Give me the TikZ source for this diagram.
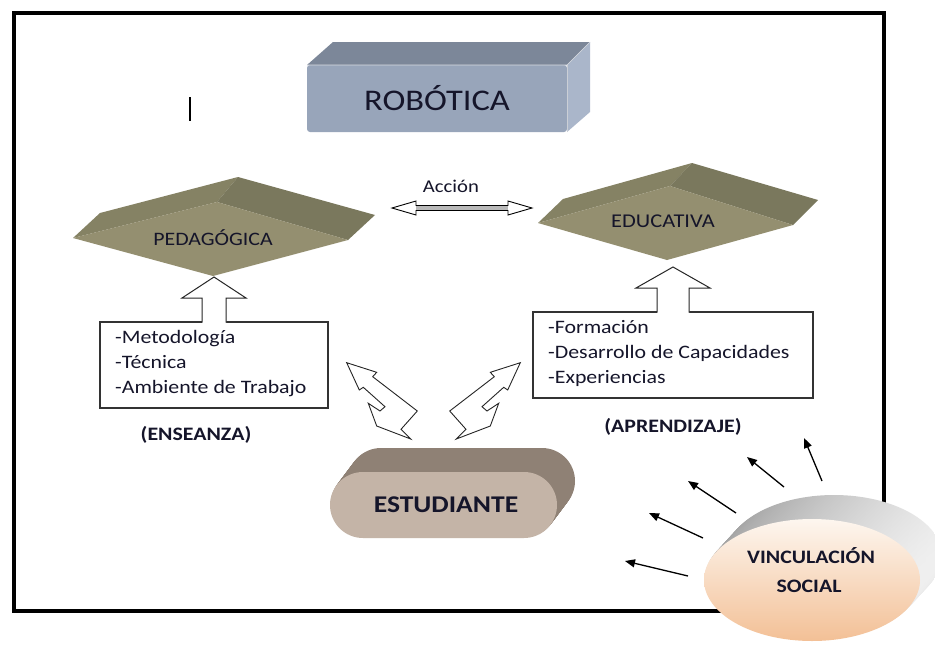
\documentclass[tikz,border=0pt]{standalone}
\usepackage{fontspec}
\setmainfont{Carlito}[FakeStretch=1.15]
\usetikzlibrary{arrows.meta}
\definecolor{ink}{HTML}{15152A}
\definecolor{robfront}{HTML}{98A5BA}
\definecolor{robtop}{HTML}{7C8799}
\definecolor{robright}{HTML}{AAB6CA}
\definecolor{dfront}{HTML}{948F70}
\definecolor{dleft}{HTML}{858264}
\definecolor{dright}{HTML}{7A785D}
\definecolor{estfront}{HTML}{C4B4A7}
\definecolor{esttop}{HTML}{8F8175}
\definecolor{vincbot}{HTML}{F3C096}
\definecolor{vinctop}{HTML}{FDF6EF}
\tikzset{
  txt/.style={inner sep=0pt, text=ink},
  listbox/.style={draw=black!80, line width=1.1pt, fill=white},
  blockarrow/.style={draw=black!85, line width=1pt, fill=white, line join=miter},
  vinarrow/.style={line width=1.3pt, -{Triangle[length=10pt,width=8pt]}},
}
\begin{document}
\begin{tikzpicture}[x=1pt,y=-1pt]
\useasboundingbox (0,0) rectangle (935,646);
\fill[white] (0,0) rectangle (935,646);

% frame
\draw[line width=3.5pt] (14,13) rectangle (884,611);

% stray mark
\draw[line width=2.4pt] (190,97) -- (190,121);

% ROBOTICA box
\fill[robtop] (307,65) -- (333,42) -- (590,42) -- (567,65) -- cycle;
\fill[robright] (567,65) -- (590,42) -- (590,112) -- (567,132) -- cycle;
\fill[robfront, rounded corners=3pt] (307,65) rectangle (567,132);
\draw[white!70!robtop, line width=0.6pt] (307,65) -- (567,65) -- (590,42);
\draw[white!60!robtop, line width=0.6pt] (567,65) -- (567,132);
\node[txt, anchor=base] (rob) at (437,110) {\fontsize{30}{36}\selectfont ROBÓTICA};

% up block arrows and boxes
\draw[listbox] (100,322) rectangle (328,408);
\draw[listbox] (533,312) rectangle (813,398);
\fill[white] (202,323) -- (202,298) -- (182,298) -- (214,277) -- (246,298) -- (226,298) -- (226,323) -- cycle;
\draw[blockarrow] (202,322.5) -- (202,298) -- (182,298) -- (214,277) -- (246,298) -- (226,298) -- (226,322.5);
\fill[white] (657,313) -- (657,288) -- (636,288) -- (673,267) -- (710,288) -- (689,288) -- (689,313) -- cycle;
\draw[blockarrow] (657,312.5) -- (657,288) -- (636,288) -- (673,267) -- (710,288) -- (689,288) -- (689,312.5);

% PEDAGOGICA diamond
\fill[dleft] (73,238) -- (100,213) -- (238,177) -- (217,202) -- cycle;
\fill[dright] (217,202) -- (238,177) -- (375,215) -- (348,240) -- cycle;
\fill[dfront] (73,238) -- (217,202) -- (348,240) -- (213,276) -- cycle;
\node[txt, anchor=base] (ped) at (213,245) {\fontsize{19}{22}\selectfont PEDAGÓGICA};

% EDUCATIVA diamond
\fill[dleft] (538,223) -- (563,199) -- (692,163) -- (670,186) -- cycle;
\fill[dright] (670,186) -- (692,163) -- (818,200) -- (793,225) -- cycle;
\fill[dfront] (538,223) -- (670,186) -- (793,225) -- (667,260) -- cycle;
\node[txt, anchor=base] (edu) at (663,227) {\fontsize{19.5}{22}\selectfont EDUCATIVA};

% Accion double arrow
\node[txt, anchor=base] (acc) at (451,192) {\fontsize{18}{22}\selectfont Acción};
\coordinate (accL) at (392,208);
\coordinate (accR) at (532,208);
\fill[white] (accL) -- ++(24,-7) -- ++(0,4.5) -- ++(92,0) -- ++(0,-4.5) -- (accR) -- ++(-24,7) -- ++(0,-4.5) -- ++(-92,0) -- ++(0,4.5) -- cycle;
\fill[gray!55] (416,205.5) rectangle (508,210.5);
\draw[line width=0.9pt, line join=miter] (accL) -- ++(24,-7) -- ++(0,4.5) -- ++(92,0) -- ++(0,-4.5) -- (accR) -- ++(-24,7) -- ++(0,-4.5) -- ++(-92,0) -- ++(0,4.5) -- cycle;

% lists
\node[txt, anchor=base west] (m1) at (115,343) {\fontsize{19}{22}\selectfont -Metodología};
\node[txt, anchor=base west] (m2) at (115,368) {\fontsize{19}{22}\selectfont -Técnica};
\node[txt, anchor=base west] (m3) at (115,393) {\fontsize{19}{22}\selectfont -Ambiente de Trabajo};
\node[txt, anchor=base west] (f1) at (548,333) {\fontsize{19}{22}\selectfont -Formación};
\node[txt, anchor=base west] (f2) at (548,358) {\fontsize{19}{22}\selectfont -Desarrollo de Capacidades};
\node[txt, anchor=base west] (f3) at (548,383) {\fontsize{19}{22}\selectfont -Experiencias};
\node[txt, anchor=base] (ens) at (196,440) {\fontsize{19}{22}\selectfont\bfseries (ENSEANZA)};
\node[txt, anchor=base] (apr) at (673,432) {\fontsize{19}{22}\selectfont\bfseries (APRENDIZAJE)};

% zigzag arrows
\draw[blockarrow, line width=0.9pt, line join=miter]
  (346.7,362.7) -- (376.7,372.3) -- (372.7,376.7) -- (417.3,411) -- (401,429.3) -- (410.7,439)
  -- (376.7,426) -- (368.3,403.3) -- (380,411) -- (385,406.7) -- (363.3,387.3) -- (359.3,390) -- cycle;
\draw[blockarrow, line width=0.9pt, line join=miter]
  (520.3,362.7) -- (490.3,372.3) -- (494.3,376.7) -- (449.7,411) -- (466,429.3) -- (456.3,439)
  -- (490.3,426) -- (498.7,403.3) -- (487,411) -- (482,406.7) -- (503.7,387.3) -- (507.7,390) -- cycle;

% ESTUDIANTE
\foreach \i in {24,23,...,1}{
  \fill[esttop, rounded corners=33pt] ({330+18*\i/24},{472-24*\i/24}) rectangle ({557+18*\i/24},{538-24*\i/24});
}
\fill[estfront, rounded corners=33pt] (330,472) rectangle (557,538);
\node[txt, anchor=base] (est) at (446,512) {\fontsize{24}{28}\selectfont\bfseries ESTUDIANTE};

% VINCULACION SOCIAL
\foreach \i in {24,23,...,1}{
  \shade[left color=gray!75, right color=gray!12] ({812+22*\i/24},{580-24*\i/24}) ellipse [x radius=108, y radius=61];
}
\shade[top color=vinctop, bottom color=vincbot] (812,580) ellipse [x radius=108, y radius=61];
\node[txt, anchor=base] (vinc) at (811,563) {\fontsize{19}{22}\selectfont\bfseries VINCULACIÓN};
\node[txt, anchor=base] (soc) at (809,592) {\fontsize{19}{22}\selectfont\bfseries SOCIAL};

% radiating arrows
\coordinate (a1s) at (688,576); \coordinate (a1e) at (625,561);
\coordinate (a2s) at (703,538); \coordinate (a2e) at (649,513);
\coordinate (a3s) at (736,513); \coordinate (a3e) at (688,481);
\coordinate (a4s) at (784,487); \coordinate (a4e) at (747,457);
\coordinate (a5s) at (822,481); \coordinate (a5e) at (804,438);
\draw[vinarrow] (a1s) -- (a1e);
\draw[vinarrow] (a2s) -- (a2e);
\draw[vinarrow] (a3s) -- (a3e);
\draw[vinarrow] (a4s) -- (a4e);
\draw[vinarrow] (a5s) -- (a5e);
\end{tikzpicture}
\end{document}
